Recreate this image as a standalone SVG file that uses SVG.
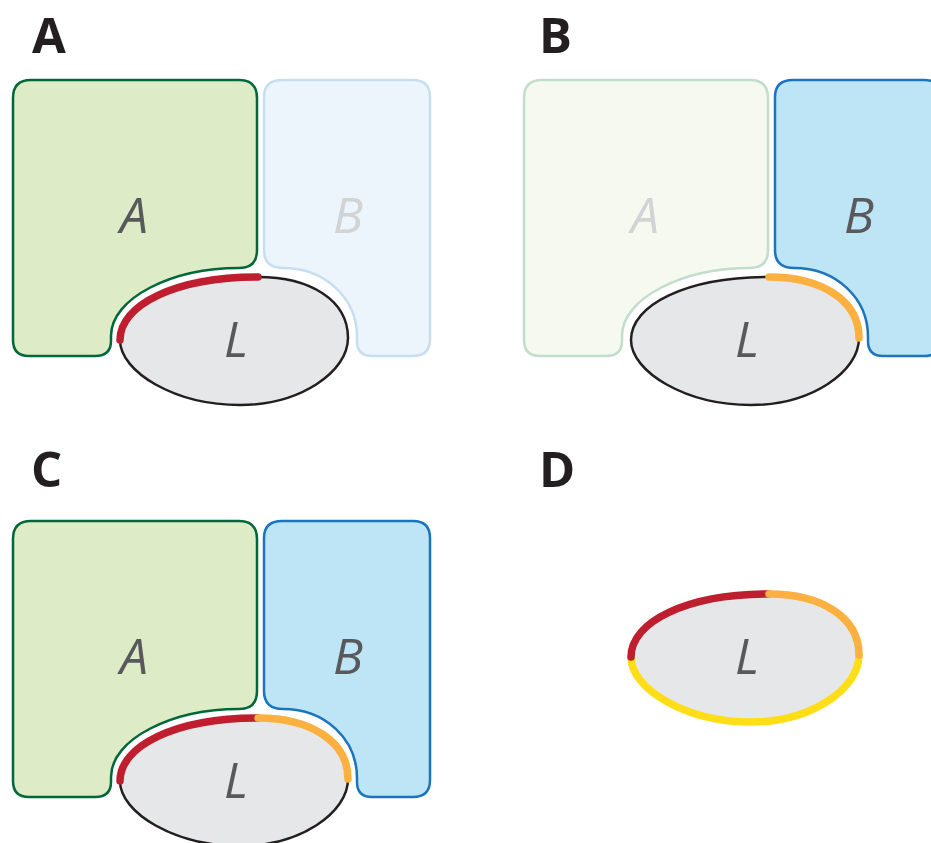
<svg xmlns="http://www.w3.org/2000/svg" xmlns:xlink="http://www.w3.org/1999/xlink" width="931" height="843" viewBox="0 0 931 843">
  <style>
    .panel { font-family: "Open Sans", "Liberation Sans", sans-serif; font-weight: 700; font-size: 49px; fill: #231F20; }
    .lbl { font-family: "Open Sans", "Liberation Sans", sans-serif; font-style: italic; font-size: 50px; text-anchor: middle; fill: #58595B; }
    .lbl.faded { fill: #D1D3D4; }
    .a-on { fill: #DDEBC6; stroke: #006838; stroke-width: 2.5; }
    .a-off { fill: #F5F9F0; stroke: #C2DDCB; stroke-width: 2.5; }
    .b-on { fill: #BDE5F5; stroke: #1C75BC; stroke-width: 2.5; }
    .b-off { fill: #ECF5FC; stroke: #C7DEF1; stroke-width: 2.5; }
    .body { fill: #E6E7E8; stroke: #231F20; stroke-width: 2.5; }
    .seg { fill: none; stroke-width: 7.5; stroke-linecap: round; }
    .red { stroke: #BE1E2D; }
    .orange { stroke: #FBB040; }
    .yellow { stroke: #FFDE17; }
  </style>
  <defs>
    <!-- region A: rounded block with a concave notch hugging L -->
    <path id="shapeA" d="M31,80 H239 Q257,80 257,98 V250 Q257,268 239,268 C172,268 111,298 111,336 V341 Q111,356 95,356 H29 Q13,356 13,340 V98 Q13,80 31,80 Z"/>
    <!-- region B: narrow block, notch on the lower left -->
    <path id="shapeB" d="M282,80 H413 Q430,80 430,97 V339 Q430,356 413,356 H372 Q357,356 357,341 V337 C357,298 325,268 283,268 Q264,268 264,250 V97 Q264,80 282,80 Z"/>
    <!-- the egg-shaped body L and its boundary pieces -->
    <path id="body" d="M120,340 C120,305 175,277 258,277 C310,277 348,300 348,338 C348,372 300,405 240,405 C175,405 120,372 120,340 Z"/>
    <path id="segTL" d="M120,340 C120,305 175,277 258,277"/>
    <path id="segTR" d="M258,277 C310,277 348,300 348,338"/>
    <path id="segBot" d="M348,338 C348,372 300,405 240,405 C175,405 120,372 120,340"/>
  </defs>

  <!-- panel letters -->
  <g id="panel-labels">
    <text class="panel" x="32" y="53">A</text>
    <text class="panel" x="539" y="53">B</text>
    <text class="panel" x="31" y="487">C</text>
    <text class="panel" x="539" y="487">D</text>
  </g>

  <!-- Panel A -->
  <g id="panelA">
    <g id="a-regionA"><use xlink:href="#shapeA" class="a-on"/><text class="lbl" x="134" y="233">A</text></g>
    <g id="a-regionB"><use xlink:href="#shapeB" class="b-off"/><text class="lbl faded" x="348" y="233">B</text></g>
    <g id="a-body"><use xlink:href="#body" class="body"/><text class="lbl" x="236" y="357">L</text></g>
    <g id="a-edges"><use xlink:href="#segTL" class="seg red"/></g>
  </g>

  <!-- Panel B -->
  <g id="panelB" transform="translate(511,0)">
    <g id="b-regionA"><use xlink:href="#shapeA" class="a-off"/><text class="lbl faded" x="134" y="233">A</text></g>
    <g id="b-regionB"><use xlink:href="#shapeB" class="b-on"/><text class="lbl" x="348" y="233">B</text></g>
    <g id="b-body"><use xlink:href="#body" class="body"/><text class="lbl" x="236" y="357">L</text></g>
    <g id="b-edges"><use xlink:href="#segTR" class="seg orange"/></g>
  </g>

  <!-- Panel C -->
  <g id="panelC" transform="translate(0,441)">
    <g id="c-regionA"><use xlink:href="#shapeA" class="a-on"/><text class="lbl" x="134" y="233">A</text></g>
    <g id="c-regionB"><use xlink:href="#shapeB" class="b-on"/><text class="lbl" x="348" y="233">B</text></g>
    <g id="c-body"><use xlink:href="#body" class="body"/><text class="lbl" x="236" y="357">L</text></g>
    <g id="c-edges"><use xlink:href="#segTL" class="seg red"/><use xlink:href="#segTR" class="seg orange"/></g>
  </g>

  <!-- Panel D -->
  <g id="panelD" transform="translate(511,317)">
    <g id="d-body"><use xlink:href="#body" class="body" style="stroke:none"/><text class="lbl" x="236" y="357">L</text></g>
    <g id="d-edges">
      <use xlink:href="#segBot" class="seg yellow"/>
      <use xlink:href="#segTL" class="seg red"/>
      <use xlink:href="#segTR" class="seg orange"/>
    </g>
  </g>
</svg>
